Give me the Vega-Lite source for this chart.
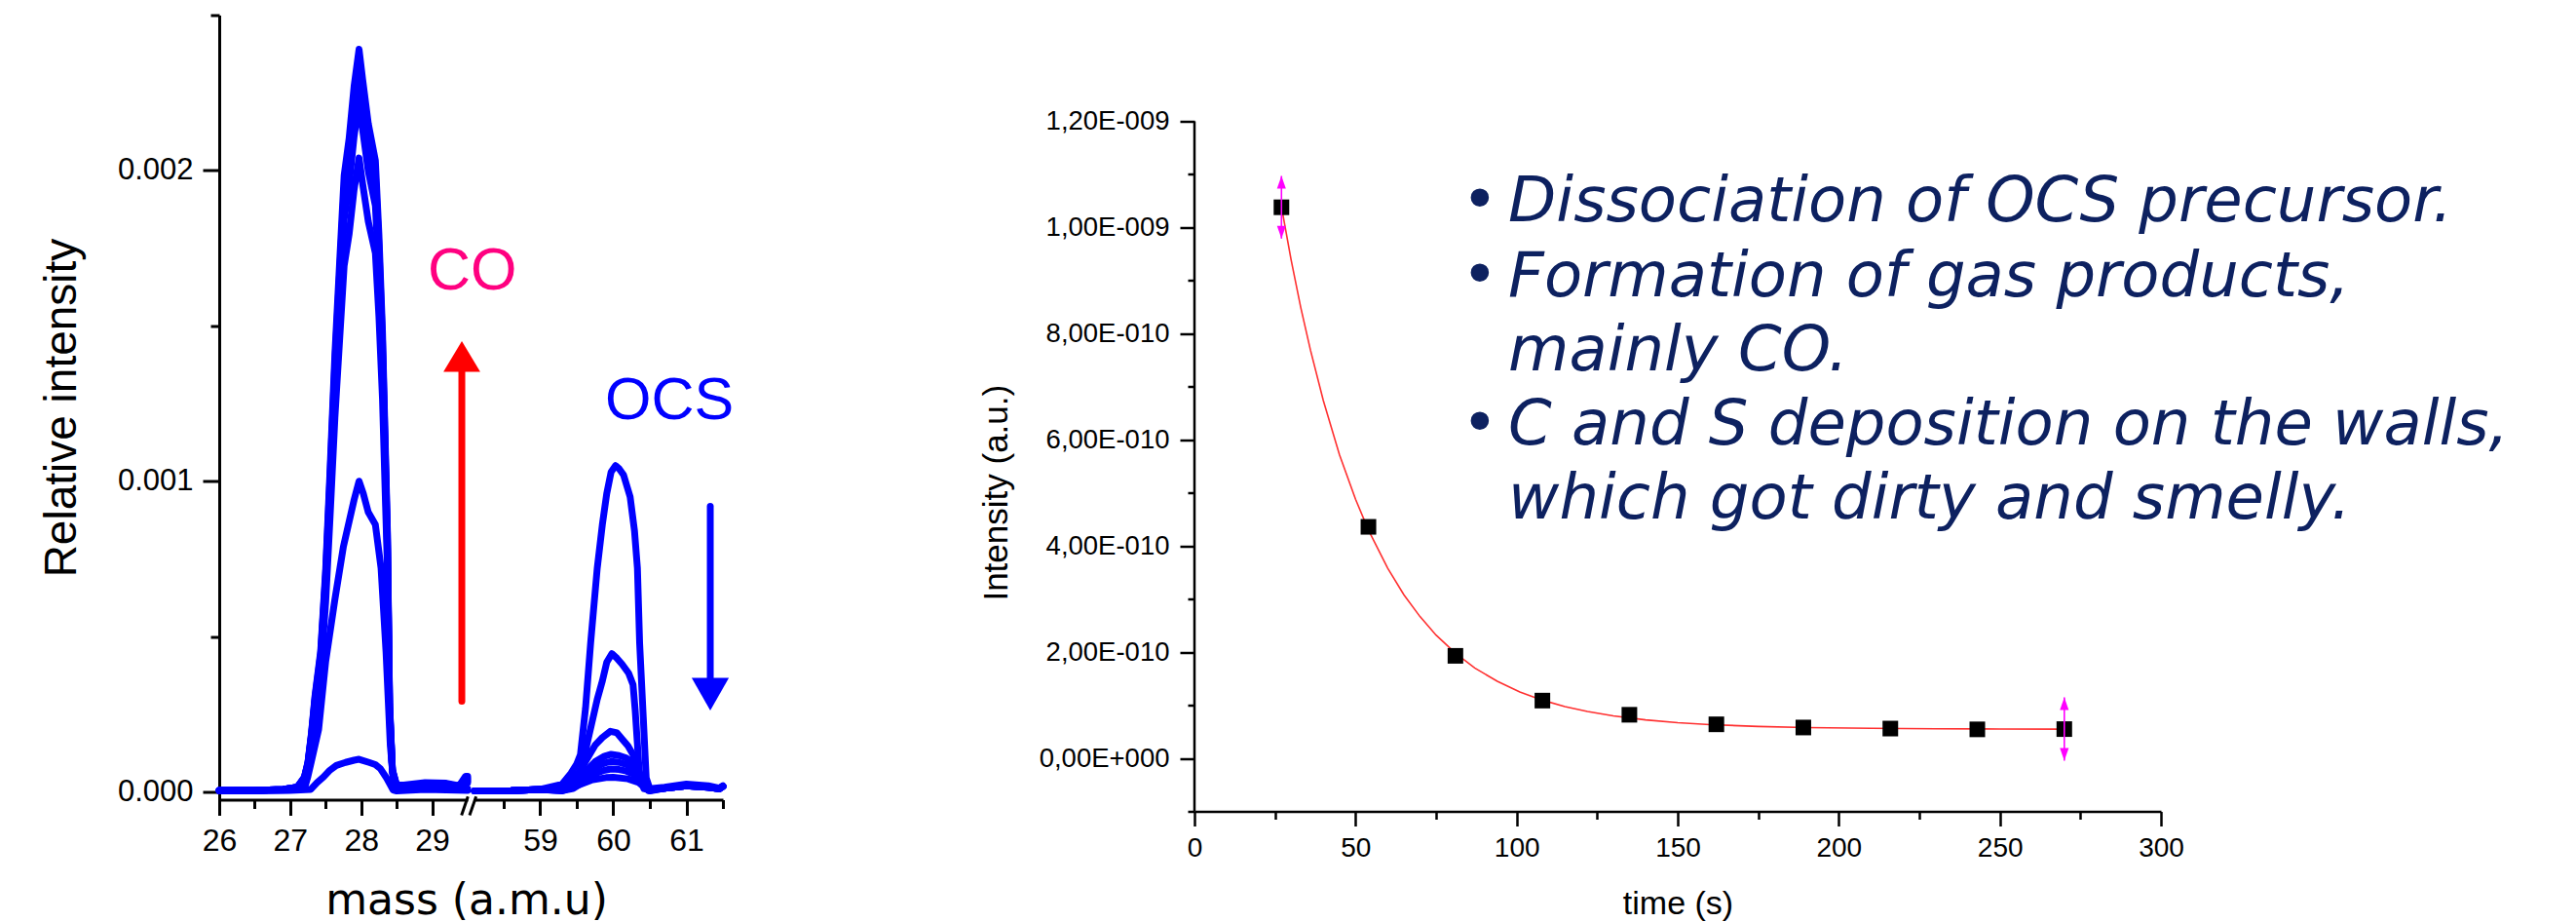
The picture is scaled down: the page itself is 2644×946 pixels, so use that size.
{
  "$schema": "https://vega.github.io/schema/vega-lite/v6.json",
  "background": "white",
  "padding": {"left": 40, "top": 13.5, "right": 5, "bottom": 0},
  "config": {
    "view": {"stroke": null},
    "axis": {"grid": false, "domainColor": "#000000", "tickColor": "#000000", "labelColor": "#000000", "titleColor": "#000000", "labelFont": "Liberation Sans", "titleFont": "Liberation Sans", "titleFontWeight": "normal", "labelFlush": false, "labelOverlap": false}
  },
  "datasets": {
    "co": [
      {"s":1,"m":26,"v":3e-6},{"s":1,"m":26.5,"v":3e-6},{"s":1,"m":27,"v":5e-6},{"s":1,"m":27.29,"v":8e-6},{"s":1,"m":27.38,"v":3e-5},{"s":1,"m":27.47,"v":4.8e-5},{"s":1,"m":27.56,"v":7e-5},{"s":1,"m":27.65,"v":8.5e-5},{"s":1,"m":27.78,"v":9.5e-5},{"s":1,"m":27.9,"v":1.02e-4},{"s":1,"m":27.97,"v":1.05e-4},{"s":1,"m":28.11,"v":9.5e-5},{"s":1,"m":28.2,"v":8.8e-5},{"s":1,"m":28.27,"v":7.5e-5},{"s":1,"m":28.36,"v":4.4e-5},{"s":1,"m":28.45,"v":6e-6},{"s":1,"m":28.5,"v":3e-6},{"s":1,"m":28.9,"v":8e-6},{"s":1,"m":29.2,"v":6e-6},{"s":1,"m":29.5,"v":5e-6},
      {"s":2,"m":26,"v":4e-6},{"s":2,"m":27,"v":6e-6},{"s":2,"m":27.2,"v":1e-5},{"s":2,"m":27.25,"v":5e-5},{"s":2,"m":27.3,"v":1e-4},{"s":2,"m":27.4,"v":2e-4},{"s":2,"m":27.5,"v":4.2e-4},{"s":2,"m":27.63,"v":6.2e-4},{"s":2,"m":27.75,"v":7.9e-4},{"s":2,"m":27.9,"v":9.4e-4},{"s":2,"m":27.97,"v":1.0e-3},{"s":2,"m":28.03,"v":9.6e-4},{"s":2,"m":28.1,"v":9.0e-4},{"s":2,"m":28.2,"v":8.6e-4},{"s":2,"m":28.28,"v":7.2e-4},{"s":2,"m":28.35,"v":4.5e-4},{"s":2,"m":28.41,"v":1.5e-4},{"s":2,"m":28.46,"v":2e-5},{"s":2,"m":28.5,"v":1e-5},{"s":2,"m":28.9,"v":1.2e-5},{"s":2,"m":29.2,"v":1e-5},{"s":2,"m":29.5,"v":1e-5},
      {"s":3,"m":26,"v":5e-6},{"s":3,"m":26.5,"v":5e-6},{"s":3,"m":26.9,"v":8e-6},{"s":3,"m":27.1,"v":15e-6},{"s":3,"m":27.2,"v":41e-6},{"s":3,"m":27.25,"v":82e-6},{"s":3,"m":27.3,"v":163e-6},{"s":3,"m":27.35,"v":265e-6},{"s":3,"m":27.43,"v":388e-6},{"s":3,"m":27.5,"v":612e-6},{"s":3,"m":27.56,"v":877e-6},{"s":3,"m":27.63,"v":1204e-6},{"s":3,"m":27.7,"v":1469e-6},{"s":3,"m":27.76,"v":1693e-6},{"s":3,"m":27.83,"v":1795e-6},{"s":3,"m":27.9,"v":1938e-6},{"s":3,"m":27.97,"v":2040e-6},{"s":3,"m":28.02,"v":1958e-6},{"s":3,"m":28.1,"v":1836e-6},{"s":3,"m":28.2,"v":1734e-6},{"s":3,"m":28.25,"v":1530e-6},{"s":3,"m":28.3,"v":1265e-6},{"s":3,"m":28.37,"v":714e-6},{"s":3,"m":28.4,"v":245e-6},{"s":3,"m":28.44,"v":61e-6},{"s":3,"m":28.5,"v":12e-6},{"s":3,"m":28.6,"v":12e-6},{"s":3,"m":28.9,"v":15e-6},{"s":3,"m":29.2,"v":14e-6},{"s":3,"m":29.38,"v":10e-6},{"s":3,"m":29.47,"v":30e-6},{"s":3,"m":29.5,"v":30e-6},
      {"s":4,"m":26,"v":5e-6},{"s":4,"m":26.5,"v":5e-6},{"s":4,"m":26.9,"v":8e-6},{"s":4,"m":27.1,"v":15e-6},{"s":4,"m":27.2,"v":44e-6},{"s":4,"m":27.25,"v":89e-6},{"s":4,"m":27.3,"v":178e-6},{"s":4,"m":27.35,"v":289e-6},{"s":4,"m":27.43,"v":422e-6},{"s":4,"m":27.5,"v":666e-6},{"s":4,"m":27.56,"v":955e-6},{"s":4,"m":27.63,"v":1310e-6},{"s":4,"m":27.7,"v":1598e-6},{"s":4,"m":27.76,"v":1843e-6},{"s":4,"m":27.83,"v":1954e-6},{"s":4,"m":27.9,"v":2109e-6},{"s":4,"m":27.97,"v":2220e-6},{"s":4,"m":28.02,"v":2131e-6},{"s":4,"m":28.1,"v":1998e-6},{"s":4,"m":28.2,"v":1887e-6},{"s":4,"m":28.25,"v":1665e-6},{"s":4,"m":28.3,"v":1376e-6},{"s":4,"m":28.37,"v":777e-6},{"s":4,"m":28.4,"v":266e-6},{"s":4,"m":28.44,"v":67e-6},{"s":4,"m":28.5,"v":15e-6},{"s":4,"m":28.6,"v":15e-6},{"s":4,"m":28.9,"v":20e-6},{"s":4,"m":29.2,"v":18e-6},{"s":4,"m":29.38,"v":13e-6},{"s":4,"m":29.47,"v":35e-6},{"s":4,"m":29.5,"v":35e-6},
      {"s":5,"m":26,"v":5e-6},{"s":5,"m":26.5,"v":5e-6},{"s":5,"m":26.9,"v":8e-6},{"s":5,"m":27.1,"v":15e-6},{"s":5,"m":27.2,"v":46e-6},{"s":5,"m":27.25,"v":91e-6},{"s":5,"m":27.3,"v":182e-6},{"s":5,"m":27.35,"v":296e-6},{"s":5,"m":27.43,"v":433e-6},{"s":5,"m":27.5,"v":684e-6},{"s":5,"m":27.56,"v":980e-6},{"s":5,"m":27.63,"v":1345e-6},{"s":5,"m":27.7,"v":1642e-6},{"s":5,"m":27.76,"v":1892e-6},{"s":5,"m":27.83,"v":2006e-6},{"s":5,"m":27.9,"v":2166e-6},{"s":5,"m":27.97,"v":2280e-6},{"s":5,"m":28.02,"v":2189e-6},{"s":5,"m":28.1,"v":2052e-6},{"s":5,"m":28.2,"v":1938e-6},{"s":5,"m":28.25,"v":1710e-6},{"s":5,"m":28.3,"v":1414e-6},{"s":5,"m":28.37,"v":798e-6},{"s":5,"m":28.4,"v":274e-6},{"s":5,"m":28.44,"v":68e-6},{"s":5,"m":28.5,"v":18e-6},{"s":5,"m":28.6,"v":18e-6},{"s":5,"m":28.9,"v":24e-6},{"s":5,"m":29.2,"v":22e-6},{"s":5,"m":29.38,"v":16e-6},{"s":5,"m":29.47,"v":40e-6},{"s":5,"m":29.5,"v":40e-6},
      {"s":6,"m":26,"v":5e-6},{"s":6,"m":26.5,"v":5e-6},{"s":6,"m":26.9,"v":8e-6},{"s":6,"m":27.1,"v":15e-6},{"s":6,"m":27.2,"v":47e-6},{"s":6,"m":27.25,"v":94e-6},{"s":6,"m":27.3,"v":187e-6},{"s":6,"m":27.35,"v":304e-6},{"s":6,"m":27.43,"v":445e-6},{"s":6,"m":27.5,"v":702e-6},{"s":6,"m":27.56,"v":1006e-6},{"s":6,"m":27.63,"v":1381e-6},{"s":6,"m":27.7,"v":1685e-6},{"s":6,"m":27.76,"v":1942e-6},{"s":6,"m":27.83,"v":2059e-6},{"s":6,"m":27.9,"v":2223e-6},{"s":6,"m":27.97,"v":2340e-6},{"s":6,"m":28.02,"v":2246e-6},{"s":6,"m":28.1,"v":2106e-6},{"s":6,"m":28.2,"v":1989e-6},{"s":6,"m":28.25,"v":1755e-6},{"s":6,"m":28.3,"v":1451e-6},{"s":6,"m":28.37,"v":819e-6},{"s":6,"m":28.4,"v":281e-6},{"s":6,"m":28.44,"v":70e-6},{"s":6,"m":28.5,"v":20e-6},{"s":6,"m":28.6,"v":20e-6},{"s":6,"m":28.9,"v":27e-6},{"s":6,"m":29.2,"v":25e-6},{"s":6,"m":29.38,"v":18e-6},{"s":6,"m":29.47,"v":45e-6},{"s":6,"m":29.5,"v":45e-6},
      {"s":7,"m":26,"v":5e-6},{"s":7,"m":26.5,"v":5e-6},{"s":7,"m":26.9,"v":8e-6},{"s":7,"m":27.1,"v":15e-6},{"s":7,"m":27.2,"v":48e-6},{"s":7,"m":27.25,"v":96e-6},{"s":7,"m":27.3,"v":191e-6},{"s":7,"m":27.35,"v":311e-6},{"s":7,"m":27.43,"v":454e-6},{"s":7,"m":27.5,"v":717e-6},{"s":7,"m":27.56,"v":1028e-6},{"s":7,"m":27.63,"v":1410e-6},{"s":7,"m":27.7,"v":1721e-6},{"s":7,"m":27.76,"v":1984e-6},{"s":7,"m":27.83,"v":2103e-6},{"s":7,"m":27.9,"v":2271e-6},{"s":7,"m":27.97,"v":2390e-6},{"s":7,"m":28.02,"v":2294e-6},{"s":7,"m":28.1,"v":2151e-6},{"s":7,"m":28.2,"v":2032e-6},{"s":7,"m":28.25,"v":1793e-6},{"s":7,"m":28.3,"v":1482e-6},{"s":7,"m":28.37,"v":837e-6},{"s":7,"m":28.4,"v":287e-6},{"s":7,"m":28.44,"v":72e-6},{"s":7,"m":28.5,"v":22e-6},{"s":7,"m":28.6,"v":22e-6},{"s":7,"m":28.9,"v":30e-6},{"s":7,"m":29.2,"v":28e-6},{"s":7,"m":29.38,"v":20e-6},{"s":7,"m":29.47,"v":50e-6},{"s":7,"m":29.5,"v":50e-6}
    ],
    "ocs": [
      {"s":1,"m":58.1,"v":3e-6},{"s":1,"m":58.6,"v":4e-6},{"s":1,"m":59.0,"v":8e-6},{"s":1,"m":59.3,"v":25e-6},{"s":1,"m":59.42,"v":60e-6},{"s":1,"m":59.5,"v":90e-6},{"s":1,"m":59.55,"v":120e-6},{"s":1,"m":59.62,"v":270e-6},{"s":1,"m":59.69,"v":480e-6},{"s":1,"m":59.78,"v":720e-6},{"s":1,"m":59.85,"v":860e-6},{"s":1,"m":59.91,"v":960e-6},{"s":1,"m":59.97,"v":1030e-6},{"s":1,"m":60.03,"v":1050e-6},{"s":1,"m":60.08,"v":1040e-6},{"s":1,"m":60.14,"v":1020e-6},{"s":1,"m":60.23,"v":950e-6},{"s":1,"m":60.29,"v":840e-6},{"s":1,"m":60.33,"v":720e-6},{"s":1,"m":60.36,"v":480e-6},{"s":1,"m":60.41,"v":240e-6},{"s":1,"m":60.45,"v":45e-6},{"s":1,"m":60.5,"v":10e-6},{"s":1,"m":60.7,"v":15e-6},{"s":1,"m":61.0,"v":25e-6},{"s":1,"m":61.3,"v":20e-6},{"s":1,"m":61.45,"v":12e-6},{"s":1,"m":61.5,"v":20e-6},
      {"s":2,"m":58.1,"v":3e-6},{"s":2,"m":58.6,"v":4e-6},{"s":2,"m":59.0,"v":8e-6},{"s":2,"m":59.3,"v":15e-6},{"s":2,"m":59.45,"v":40e-6},{"s":2,"m":59.52,"v":60e-6},{"s":2,"m":59.58,"v":80e-6},{"s":2,"m":59.64,"v":154e-6},{"s":2,"m":59.71,"v":226e-6},{"s":2,"m":59.78,"v":298e-6},{"s":2,"m":59.85,"v":357e-6},{"s":2,"m":59.91,"v":417e-6},{"s":2,"m":59.98,"v":445e-6},{"s":2,"m":60.05,"v":430e-6},{"s":2,"m":60.12,"v":411e-6},{"s":2,"m":60.21,"v":382e-6},{"s":2,"m":60.27,"v":345e-6},{"s":2,"m":60.3,"v":261e-6},{"s":2,"m":60.33,"v":154e-6},{"s":2,"m":60.36,"v":45e-6},{"s":2,"m":60.42,"v":10e-6},{"s":2,"m":60.5,"v":8e-6},{"s":2,"m":60.7,"v":12e-6},{"s":2,"m":61.0,"v":20e-6},{"s":2,"m":61.3,"v":15e-6},{"s":2,"m":61.45,"v":10e-6},{"s":2,"m":61.5,"v":18e-6},
      {"s":3,"m":58.1,"v":3e-6},{"s":3,"m":58.6,"v":4e-6},{"s":3,"m":59.0,"v":8e-6},{"s":3,"m":59.3,"v":10e-6},{"s":3,"m":59.45,"v":30e-6},{"s":3,"m":59.55,"v":70e-6},{"s":3,"m":59.65,"v":110e-6},{"s":3,"m":59.75,"v":150e-6},{"s":3,"m":59.85,"v":175e-6},{"s":3,"m":59.96,"v":195e-6},{"s":3,"m":60.05,"v":190e-6},{"s":3,"m":60.12,"v":170e-6},{"s":3,"m":60.2,"v":148e-6},{"s":3,"m":60.27,"v":120e-6},{"s":3,"m":60.32,"v":80e-6},{"s":3,"m":60.38,"v":40e-6},{"s":3,"m":60.45,"v":10e-6},{"s":3,"m":60.5,"v":6e-6},{"s":3,"m":60.7,"v":12e-6},{"s":3,"m":61.0,"v":20e-6},{"s":3,"m":61.3,"v":15e-6},{"s":3,"m":61.45,"v":10e-6},{"s":3,"m":61.5,"v":18e-6},
      {"s":4,"m":58.1,"v":3e-6},{"s":4,"m":58.6,"v":4e-6},{"s":4,"m":59.0,"v":8e-6},{"s":4,"m":59.3,"v":6e-6},{"s":4,"m":59.45,"v":18e-6},{"s":4,"m":59.55,"v":42e-6},{"s":4,"m":59.65,"v":73e-6},{"s":4,"m":59.75,"v":97e-6},{"s":4,"m":59.88,"v":115e-6},{"s":4,"m":59.97,"v":121e-6},{"s":4,"m":60.08,"v":117e-6},{"s":4,"m":60.18,"v":109e-6},{"s":4,"m":60.27,"v":94e-6},{"s":4,"m":60.35,"v":67e-6},{"s":4,"m":60.42,"v":30e-6},{"s":4,"m":60.48,"v":7e-6},{"s":4,"m":60.7,"v":12e-6},{"s":4,"m":61.0,"v":20e-6},{"s":4,"m":61.3,"v":15e-6},{"s":4,"m":61.45,"v":10e-6},{"s":4,"m":61.5,"v":18e-6},
      {"s":5,"m":58.1,"v":3e-6},{"s":5,"m":58.6,"v":4e-6},{"s":5,"m":59.0,"v":8e-6},{"s":5,"m":59.3,"v":5e-6},{"s":5,"m":59.45,"v":15e-6},{"s":5,"m":59.55,"v":34e-6},{"s":5,"m":59.65,"v":59e-6},{"s":5,"m":59.75,"v":78e-6},{"s":5,"m":59.88,"v":93e-6},{"s":5,"m":59.97,"v":98e-6},{"s":5,"m":60.08,"v":95e-6},{"s":5,"m":60.18,"v":88e-6},{"s":5,"m":60.27,"v":76e-6},{"s":5,"m":60.35,"v":54e-6},{"s":5,"m":60.42,"v":25e-6},{"s":5,"m":60.48,"v":6e-6},{"s":5,"m":60.7,"v":12e-6},{"s":5,"m":61.0,"v":20e-6},{"s":5,"m":61.3,"v":15e-6},{"s":5,"m":61.45,"v":10e-6},{"s":5,"m":61.5,"v":18e-6},
      {"s":6,"m":58.1,"v":3e-6},{"s":6,"m":58.6,"v":4e-6},{"s":6,"m":59.0,"v":8e-6},{"s":6,"m":59.3,"v":4e-6},{"s":6,"m":59.45,"v":11e-6},{"s":6,"m":59.55,"v":26e-6},{"s":6,"m":59.65,"v":44e-6},{"s":6,"m":59.75,"v":59e-6},{"s":6,"m":59.88,"v":70e-6},{"s":6,"m":59.97,"v":74e-6},{"s":6,"m":60.08,"v":72e-6},{"s":6,"m":60.18,"v":67e-6},{"s":6,"m":60.27,"v":58e-6},{"s":6,"m":60.35,"v":41e-6},{"s":6,"m":60.42,"v":19e-6},{"s":6,"m":60.48,"v":4e-6},{"s":6,"m":60.7,"v":12e-6},{"s":6,"m":61.0,"v":20e-6},{"s":6,"m":61.3,"v":15e-6},{"s":6,"m":61.45,"v":10e-6},{"s":6,"m":61.5,"v":18e-6},
      {"s":7,"m":58.1,"v":3e-6},{"s":7,"m":58.6,"v":4e-6},{"s":7,"m":59.0,"v":8e-6},{"s":7,"m":59.3,"v":3e-6},{"s":7,"m":59.5,"v":20e-6},{"s":7,"m":59.7,"v":38e-6},{"s":7,"m":59.9,"v":46e-6},{"s":7,"m":60.0,"v":47e-6},{"s":7,"m":60.2,"v":42e-6},{"s":7,"m":60.35,"v":30e-6},{"s":7,"m":60.45,"v":10e-6},{"s":7,"m":60.5,"v":3e-6},{"s":7,"m":60.7,"v":12e-6},{"s":7,"m":61.0,"v":20e-6},{"s":7,"m":61.3,"v":15e-6},{"s":7,"m":61.45,"v":10e-6},{"s":7,"m":61.5,"v":18e-6}
    ],
    "fit": [
      {"t":27,"v":1.039e-9},{"t":30,"v":9.39e-10},{"t":33,"v":8.49e-10},{"t":36,"v":7.69e-10},{"t":40,"v":6.74e-10},{"t":45,"v":5.72e-10},{"t":50,"v":4.88e-10},{"t":54,"v":4.30e-10},{"t":60,"v":3.58e-10},{"t":65,"v":3.08e-10},{"t":70,"v":2.67e-10},{"t":75,"v":2.32e-10},{"t":81,"v":1.98e-10},{"t":87,"v":1.70e-10},{"t":94,"v":1.45e-10},{"t":101,"v":1.25e-10},{"t":108,"v":1.095e-10},{"t":115,"v":9.75e-11},{"t":122,"v":8.81e-11},{"t":130,"v":7.99e-11},{"t":140,"v":7.24e-11},{"t":150,"v":6.72e-11},{"t":160,"v":6.35e-11},{"t":175,"v":6.0e-11},{"t":190,"v":5.79e-11},{"t":210,"v":5.64e-11},{"t":230,"v":5.57e-11},{"t":250,"v":5.52e-11},{"t":270,"v":5.5e-11}
    ],
    "pts": [
      {"t":27,"v":1.038e-9},{"t":54,"v":4.36e-10},{"t":81,"v":1.93e-10},{"t":108,"v":1.087e-10},{"t":135,"v":8.2e-11},{"t":162,"v":6.4e-11},{"t":189,"v":5.8e-11},{"t":216,"v":5.6e-11},{"t":243,"v":5.45e-11},{"t":270,"v":5.5e-11}
    ],
    "err": [
      {"t":27,"lo":9.79e-10,"hi":1.097e-9},{"t":270,"lo":-4.5e-12,"hi":1.148e-10}
    ]
  },
  "spacing": 7,
  "bounds": "flush",
  "hconcat": [
    {
      "width": 255,
      "height": 805,
      "layer": [
        {
          "data": {"name": "co"},
          "mark": {"type": "line", "color": "#0000FF", "strokeWidth": 7, "strokeJoin": "round", "strokeCap": "round"},
          "encoding": {
            "x": {"field": "m", "type": "quantitative", "scale": {"domain": [26, 29.5], "nice": false, "zero": false},
              "axis": {"title": null, "values": [26, 26.5, 27, 27.5, 28, 28.5, 29], "format": ".0f", "labelExpr": "datum.value % 1 === 0 ? datum.label : ''", "tickSize": {"condition": {"test": "datum.value % 1 === 0", "value": 16}, "value": 9}, "tickWidth": 3, "domainWidth": 3, "labelFontSize": {"condition": {"test": "datum.value % 1 === 0", "value": 32}, "value": 0}, "labelPadding": 11}},
            "y": {"field": "v", "type": "quantitative", "scale": {"domain": [-0.000025, 0.0025], "nice": false, "zero": false},
              "axis": {"title": "Relative intensity", "titleFontSize": 46, "titlePadding": 33, "values": [0, 0.0005, 0.001, 0.0015, 0.002, 0.0025], "format": ".3f", "labelExpr": "abs(datum.value*1000 - round(datum.value*1000)) < 0.01 ? datum.label : ''", "tickSize": {"condition": {"test": "abs(datum.value*1000 - round(datum.value*1000)) < 0.01", "value": 17}, "value": 9}, "tickWidth": 3, "domainWidth": 3, "labelFontSize": {"condition": {"test": "abs(datum.value*1000 - round(datum.value*1000)) < 0.01", "value": 31}, "value": 0}, "labelPadding": 10}},
            "detail": {"field": "s", "type": "nominal"}
          }
        },
        {
          "data": {"values": [{}]},
          "mark": {"type": "rule", "color": "#FF0000", "strokeWidth": 7, "strokeCap": "round"},
          "encoding": {"x": {"datum": 29.418}, "y": {"datum": 0.000292}, "y2": {"datum": 0.00137}}
        },
        {
          "data": {"values": [{}]},
          "mark": {"type": "point", "shape": "M0,0L0.6,1L-0.6,1Z", "size": 3969, "filled": true, "color": "#FF0000", "opacity": 1, "strokeWidth": 0},
          "encoding": {"x": {"datum": 29.418}, "y": {"datum": 0.001451}}
        },
        {
          "data": {"values": [{}]},
          "mark": {"type": "text", "text": "CO", "font": "Liberation Sans", "fontSize": 61, "color": "#FF0080", "align": "left", "baseline": "alphabetic"},
          "encoding": {"x": {"datum": 28.937}, "y": {"datum": 0.0016186}}
        },
        {
          "data": {"values": [{}]},
          "mark": {"type": "rule", "color": "#000000", "strokeWidth": 3},
          "encoding": {"x": {"datum": 29.4135}, "y": {"datum": -0.0000752}, "x2": {"datum": 29.504}, "y2": {"datum": -0.0000146}}
        },
        {
          "data": {"values": [{}]},
          "mark": {"type": "rule", "color": "#000000", "strokeWidth": 3},
          "encoding": {"x": {"datum": 29.527}, "y": {"datum": -0.0000752}, "x2": {"datum": 29.619}, "y2": {"datum": -0.0000146}}
        },
        {
          "data": {"values": [{}]},
          "mark": {"type": "text", "text": "mass (a.m.u)", "font": "DejaVu Sans", "fontSize": 44, "color": "#000000", "align": "center", "baseline": "alphabetic"},
          "encoding": {"x": {"datum": 29.486}, "y": {"datum": -0.000395}}
        }
      ]
    },
    {
      "width": 255,
      "height": 805,
      "layer": [
        {
          "data": {"name": "ocs"},
          "mark": {"type": "line", "color": "#0000FF", "strokeWidth": 7, "strokeJoin": "round", "strokeCap": "round"},
          "encoding": {
            "x": {"field": "m", "type": "quantitative", "scale": {"domain": [58.1, 61.5], "nice": false, "zero": false},
              "axis": {"title": null, "values": [58.5, 59, 59.5, 60, 60.5, 61, 61.5], "format": ".0f", "labelExpr": "datum.value % 1 === 0 ? datum.label : ''", "tickSize": {"condition": {"test": "datum.value % 1 === 0", "value": 16}, "value": 9}, "tickWidth": 3, "domainWidth": 3, "labelFontSize": {"condition": {"test": "datum.value % 1 === 0", "value": 32}, "value": 0}, "labelPadding": 11}},
            "y": {"field": "v", "type": "quantitative", "scale": {"domain": [-0.000025, 0.0025], "nice": false, "zero": false}, "axis": null},
            "detail": {"field": "s", "type": "nominal"}
          }
        },
        {
          "data": {"values": [{}]},
          "mark": {"type": "rule", "color": "#0000FF", "strokeWidth": 7, "strokeCap": "round"},
          "encoding": {"x": {"datum": 61.327}, "y": {"datum": 0.000919, "axis": null}, "y2": {"datum": 0.00035}}
        },
        {
          "data": {"values": [{}]},
          "mark": {"type": "point", "shape": "M0,0L0.57,-1L-0.57,-1Z", "size": 4489, "filled": true, "color": "#0000FF", "opacity": 1, "strokeWidth": 0},
          "encoding": {"x": {"datum": 61.327}, "y": {"datum": 0.000262, "axis": null}}
        },
        {
          "data": {"values": [{}]},
          "mark": {"type": "text", "text": "OCS", "font": "Liberation Sans", "fontSize": 61, "color": "#0000FF", "align": "left", "baseline": "alphabetic"},
          "encoding": {"x": {"datum": 59.887}, "y": {"datum": 0.0011983, "axis": null}}
        }
      ]
    },
    {
      "width": 470,
      "height": 805,
      "data": {"values": [{}]},
      "mark": {"type": "point", "opacity": 0},
      "encoding": {}
    },
    {
      "width": 992,
      "height": 817,
      "layer": [
        {
          "data": {"name": "fit"},
          "mark": {"type": "line", "color": "#FF3030", "strokeWidth": 1.6},
          "encoding": {
            "x": {"field": "t", "type": "quantitative", "scale": {"domain": [0, 300], "nice": false, "zero": false},
              "axis": {"title": "time (s)", "titleFontSize": 34, "titlePadding": 26, "values": [0, 25, 50, 75, 100, 125, 150, 175, 200, 225, 250, 275, 300], "labelExpr": "datum.value % 50 === 0 ? datum.label : ''", "tickSize": {"condition": {"test": "datum.value % 50 === 0", "value": 15}, "value": 8}, "tickWidth": 2.5, "domainWidth": 2.5, "labelFontSize": 28, "labelPadding": 9}},
            "y": {"field": "v", "type": "quantitative", "scale": {"domain": [-1e-10, 1.4e-9], "nice": false, "zero": false},
              "axis": {"title": null, "domain": false, "values": [-1e-10, 0, 1e-10, 2e-10, 3e-10, 4e-10, 5e-10, 6e-10, 7e-10, 8e-10, 9e-10, 1e-9, 1.1e-9, 1.2e-9], "labelExpr": "abs(datum.value*5e9 - round(datum.value*5e9)) < 0.01 ? ['0,00E+000','2,00E-010','4,00E-010','6,00E-010','8,00E-010','1,00E-009','1,20E-009'][round(datum.value*5e9)] : ''", "tickSize": {"condition": {"test": "abs(datum.value*5e9 - round(datum.value*5e9)) < 0.01", "value": 15}, "value": 7}, "tickWidth": 2.5, "labelFontSize": 27.5, "labelPadding": 11}}
          }
        },
        {
          "data": {"values": [{}]},
          "mark": {"type": "rule", "color": "#000000", "strokeWidth": 2.5},
          "encoding": {"x": {"datum": 0}, "y": {"datum": -1e-10}, "y2": {"datum": 1.2e-9}}
        },
        {
          "data": {"name": "pts"},
          "mark": {"type": "point", "shape": "square", "size": 256, "filled": true, "color": "#000000", "opacity": 1},
          "encoding": {"x": {"field": "t", "type": "quantitative", "axis": {"title": "time (s)"}}, "y": {"field": "v", "type": "quantitative", "axis": {"title": null}}}
        },
        {
          "data": {"name": "err"},
          "mark": {"type": "rule", "color": "#FF00FF", "strokeWidth": 1.6},
          "encoding": {"x": {"field": "t", "type": "quantitative", "axis": {"title": "time (s)"}}, "y": {"field": "lo", "type": "quantitative", "axis": {"title": null}}, "y2": {"field": "hi"}}
        },
        {
          "data": {"name": "err"},
          "mark": {"type": "point", "shape": "M0,0L0.35,1L-0.35,1Z", "size": 676, "filled": true, "color": "#FF00FF", "opacity": 1, "strokeWidth": 0},
          "encoding": {"x": {"field": "t", "type": "quantitative", "axis": {"title": "time (s)"}}, "y": {"field": "hi", "type": "quantitative", "axis": {"title": null}}}
        },
        {
          "data": {"name": "err"},
          "mark": {"type": "point", "shape": "M0,0L0.35,-1L-0.35,-1Z", "size": 676, "filled": true, "color": "#FF00FF", "opacity": 1, "strokeWidth": 0},
          "encoding": {"x": {"field": "t", "type": "quantitative", "axis": {"title": "time (s)"}}, "y": {"field": "lo", "type": "quantitative", "axis": {"title": null}}}
        },
        {
          "data": {"values": [{}]},
          "mark": {"type": "text", "text": ["Dissociation of OCS precursor.", "Formation of gas products,", "mainly CO.", "C and S deposition on the walls,", "which got dirty and smelly."], "lineHeight": 76.3, "font": "DejaVu Sans", "fontStyle": "italic", "fontSize": 64, "color": "#0D2160", "align": "left", "baseline": "alphabetic"},
          "encoding": {"x": {"datum": 97.4}, "y": {"datum": 1.0112e-9}}
        },
        {
          "data": {"values": [{}]},
          "mark": {"type": "text", "text": "•", "font": "DejaVu Sans", "fontSize": 64, "color": "#0D2160", "align": "center", "baseline": "alphabetic"},
          "encoding": {"x": {"datum": 88.6}, "y": {"datum": 1.0112e-9}}
        },
        {
          "data": {"values": [{}]},
          "mark": {"type": "text", "text": "•", "font": "DejaVu Sans", "fontSize": 64, "color": "#0D2160", "align": "center", "baseline": "alphabetic"},
          "encoding": {"x": {"datum": 88.6}, "y": {"datum": 8.711e-10}}
        },
        {
          "data": {"values": [{}]},
          "mark": {"type": "text", "text": "•", "font": "DejaVu Sans", "fontSize": 64, "color": "#0D2160", "align": "center", "baseline": "alphabetic"},
          "encoding": {"x": {"datum": 88.6}, "y": {"datum": 5.909e-10}}
        },
        {
          "data": {"values": [{}]},
          "mark": {"type": "text", "text": "Intensity (a.u.)", "angle": 270, "font": "Liberation Sans", "fontSize": 35, "color": "#000000", "align": "center", "baseline": "middle"},
          "encoding": {"x": {"datum": -61.4}, "y": {"datum": 5.0e-10}}
        }
      ]
    }
  ]
}
